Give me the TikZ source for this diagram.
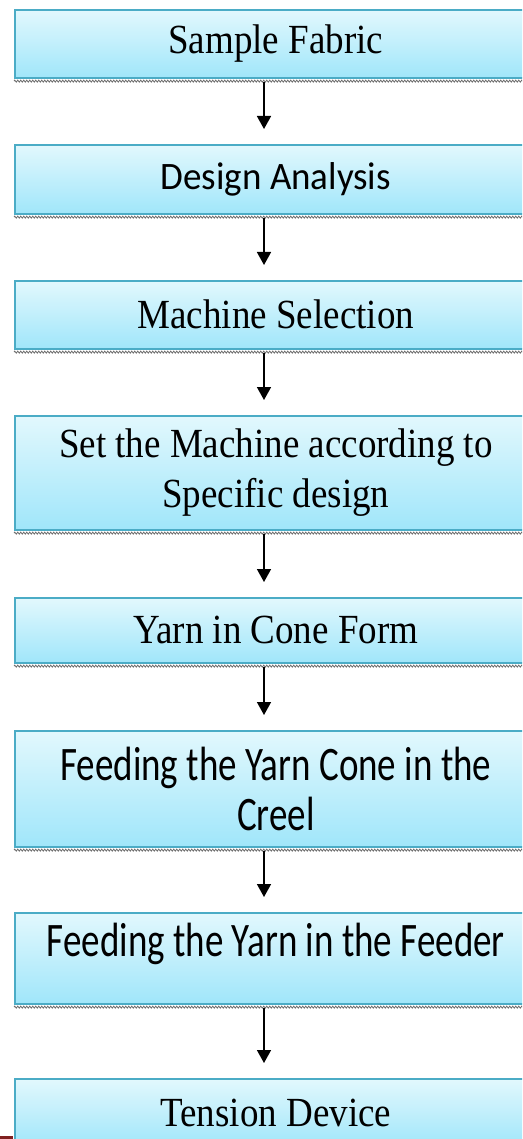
\documentclass[tikz,border=0pt]{standalone}
\usepackage{fontspec}
\setmainfont{Liberation Serif}
\newfontfamily\calfont{Carlito}
\usetikzlibrary{arrows.meta,decorations.pathmorphing}

\definecolor{boxedge}{RGB}{75,172,198}
\definecolor{boxtop}{RGB}{226,248,253}
\definecolor{boxbot}{RGB}{160,230,250}
\definecolor{tornedge}{RGB}{110,110,110}
\definecolor{pagerule}{RGB}{128,32,32}

% lettering is set slightly taller than its natural proportions
\newcommand\tallsans[1]{\scalebox{1}[1.3]{#1}}
\newcommand\tallserif[1]{\scalebox{1}[1.12]{#1}}
\newcommand\plainsans[1]{\scalebox{1}[1.05]{#1}}

\tikzset{
  stepbox/.style={draw=boxedge, line width=1.6pt, top color=boxtop, bottom color=boxbot,
    anchor=north west, minimum width=522pt, inner sep=0pt, align=center,
    font=\fontsize{37}{50}\selectfont},
  sansbox/.style={stepbox, font=\calfont\fontsize{37}{50}\selectfont},
  flow/.style={line width=1.6pt, -{Triangle[width=14pt,length=13pt]},
    shorten <=3pt, shorten >=15pt},
  torn/.style={draw=tornedge, line width=0.8pt, decorate,
    decoration={zigzag, segment length=3pt, amplitude=1pt}},
}

\begin{document}
\begin{tikzpicture}[x=1pt,y=-1pt]
\useasboundingbox (0,0) rectangle (522,1139);
\clip (0,0) rectangle (522,1139);

\node[stepbox, minimum height=68pt]  (b1) at (14,9)    {\tallserif{Sample Fabric}};
\node[sansbox, minimum height=69pt]  (b2) at (14,144)  {\plainsans{Design Analysis}};
\node[stepbox, minimum height=68pt]  (b3) at (14,280)  {\tallserif{Machine Selection}};
\node[stepbox, minimum height=114pt] (b4) at (14,415)  {\tallserif{Set the Machine according to}\\\tallserif{Specific design}};
\node[stepbox, minimum height=65pt]  (b5) at (14,597)  {\tallserif{Yarn in Cone Form}};
\node[sansbox, minimum height=116pt] (b6) at (14,730)  {\tallsans{Feeding the Yarn Cone in the}\\\tallsans{Creel}};
\node[sansbox, minimum height=91pt, text depth=38pt] (b7) at (14,912) {\tallsans{Feeding the Yarn in the Feeder}};
\node[stepbox, minimum height=68pt]  (b8) at (14,1078) {\tallserif{Tension Device}};

% torn shadow along the lower edge of each box
\foreach \b in {b1,b2,b3,b4,b5,b6,b7}
  \draw[torn] ([yshift=-2.5pt]\b.south west) -- ([yshift=-2.5pt]\b.south east);

% vertical flow line
\coordinate (spine) at (264,0);
\foreach \a/\b in {b1/b2,b2/b3,b3/b4,b4/b5,b5/b6,b6/b7,b7/b8}
  \draw[flow] (spine |- \a.south) -- (spine |- \b.north);

% page rule stub at the lower left
\coordinate (ruleL) at (0,1137.5);
\coordinate (ruleR) at (13,1137.5);
\draw[pagerule, line width=3pt] (ruleL) -- (ruleR);
\end{tikzpicture}
\end{document}
